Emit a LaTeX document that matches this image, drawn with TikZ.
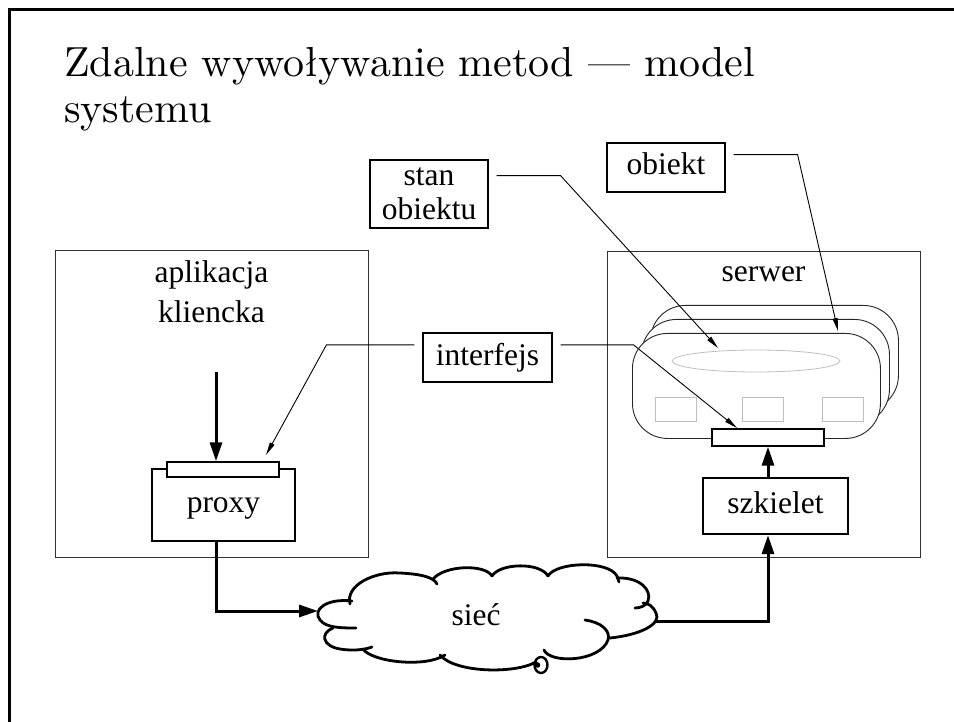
\documentclass[tikz,border=0pt]{standalone}
\usepackage{fontspec}
\newfontfamily\lab{Liberation Serif}
\newfontfamily\titlef{lmroman10-regular.otf}
\usetikzlibrary{arrows.meta,calc,shapes.geometric}
\begin{document}
\begin{tikzpicture}[x=1pt,y=-1pt,
  lbltext/.style={font=\lab\fontsize{31.5}{34}\selectfont},
  lblbox/.style={draw,line width=1.2pt,lbltext,inner sep=0pt,text height=22pt,text depth=7pt},
  panel/.style={draw=black!80,line width=1pt,inner sep=0pt,anchor=north west},
  thickbox/.style={draw,line width=2.3pt,lbltext,inner sep=0pt,text height=22pt,text depth=7pt},
  bar/.style={draw,fill=white,line width=1.4pt,inner sep=0pt},
  flow/.style={line width=3pt,-{Triangle[length=19pt,width=12pt]}},
  leader/.style={line width=0.9pt,-{Triangle[length=13pt,width=5pt]},shorten <=8pt},
  objshape/.style={draw=black!85,fill=white,line width=0.9pt,rounded corners=35pt,inner sep=0pt,anchor=north west,minimum width=248pt,minimum height=105pt},
  faint/.style={draw=black!25,line width=0.8pt,inner sep=0pt},
  cloudline/.style={line width=2.8pt,line cap=round},
  titlefont/.style={font=\titlef\fontsize{42}{46}\selectfont,inner sep=0pt,anchor=base west}
]
\useasboundingbox (0,0) rectangle (954,722);
\clip (0,0) rectangle (954,722);
\fill[white] (0,0) rectangle (954,722);

% frame
\draw[line width=3pt] (9,740) -- (9,9.5) -- (970,9.5);

% title
\node[titlefont] (title1) at (64,77) {Zdalne wywoływanie metod — model};
\node[titlefont] (title2) at (64,123) {systemu};

% panels
\node[panel,minimum width=313pt,minimum height=307pt] (client) at (55,250) {};
\node[lbltext,anchor=base] (clientA) at (211.5,283) {aplikacja};
\node[lbltext,anchor=base] (clientB) at (211.5,323) {kliencka};
\node[panel,minimum width=313pt,minimum height=306pt] (server) at (607,251) {};
\node[lbltext,anchor=base] (serverlbl) at (763.5,282) {serwer};

% object stack
\node[objshape] (objC) at (650,305) {};
\node[objshape] (objB) at (641,319) {};
\node[objshape] (objA) at (632,333) {};
\node[faint,ellipse,minimum width=168pt,minimum height=22pt] (state) at (756,361) {};
\node[faint,minimum width=41pt,minimum height=24pt] (m1) at (675.5,409) {};
\node[faint,minimum width=41pt,minimum height=24pt] (m2) at (763,409) {};
\node[faint,minimum width=41pt,minimum height=24pt] (m3) at (843,409) {};
\node[bar,minimum width=112pt,minimum height=17pt] (sbar) at (768,437.5) {};

% proxy and skeleton
\node[thickbox,minimum width=143pt,minimum height=72pt] (proxy) at (223.5,505) {proxy};
\node[bar,minimum width=112pt,minimum height=15pt] (pbar) at (223,469.5) {};
\node[thickbox,minimum width=145pt,minimum height=56pt] (szk) at (775.5,506) {szkielet};

% label boxes
\node[lblbox,minimum width=129pt,minimum height=49pt] (intf) at (487.5,357.5) {interfejs};
\node[lblbox,minimum width=118pt,minimum height=49pt] (obj) at (666,167.5) {obiekt};
\node[draw,line width=1.2pt,lbltext,align=center,inner sep=0pt,minimum width=118pt,minimum height=68pt] (stan) at (429,194) {stan\\obiektu};

% cloud
\node[lbltext,text height=22pt,text depth=7pt,inner sep=0pt] (net) at (476,617.5) {sieć};
\begin{scope}[cloudline]
\draw (352,601) .. controls (326,598) and (312,610) .. (320,620) .. controls (326,628) and (342,628) .. (356,628);
\draw (333,628) .. controls (320,633) and (322,646) .. (340,649) .. controls (352,651) and (364,650) .. (372,647);
\draw (363,649) .. controls (372,662) and (425,668) .. (445,655);
\draw (440,655) .. controls (455,673) and (515,674) .. (536,662);
\draw (544,650) .. controls (550,664) and (600,662) .. (608,640) .. controls (611,630) and (600,622) .. (585,620);
\draw (610,638) .. controls (640,635) and (662,624) .. (656,613) .. controls (653,606) and (648,603) .. (643,603);
\draw (617,578) .. controls (640,577) and (652,590) .. (648,601) .. controls (646,606) and (640,608) .. (635,608);
\draw (548,576) .. controls (556,562) and (608,560) .. (617,576) -- (619,582);
\draw (492,576) .. controls (500,563) and (540,562) .. (548,576);
\draw (433,579) .. controls (445,565) and (485,564) .. (492,576);
\draw (350,604) .. controls (345,585) and (375,571) .. (400,573) .. controls (420,574) and (434,577) .. (437,584);
\draw[line width=2.4pt] (541,665) ellipse [x radius=6.5, y radius=8];
\fill (537.5,665) circle (2.8);
\end{scope}
\coordinate (netL) at (318,611);
\coordinate (netR) at (655,621);

% flows
\coordinate (callsrc) at (216,372);
\draw[flow] (callsrc) -- (callsrc |- pbar.north);
\draw[flow] (proxy.south -| callsrc) |- (netL);
\draw[flow] (netR) -| (szk.south -| sbar.south);
\draw[flow] (szk.north -| sbar.south) -- (sbar.south);

% leaders
\coordinate (tipP) at (266,455);
\coordinate (tipS) at (737,428);
\coordinate (tipState) at (718,348);
\coordinate (tipObj) at (838,331);
\draw[leader] ($(intf.north west)!0.25!(intf.south west)$) -- ++(-96,0) -- (tipP);
\draw[leader] ($(intf.north east)!0.25!(intf.south east)$) -- ++(81,0) -- (tipS);
\draw[leader] ($(stan.north east)!0.235!(stan.south east)$) -- ++(72,0) -- (tipState);
\draw[leader] ($(obj.north east)!0.245!(obj.south east)$) -- ++(72,0) -- (tipObj);
\end{tikzpicture}
\end{document}
